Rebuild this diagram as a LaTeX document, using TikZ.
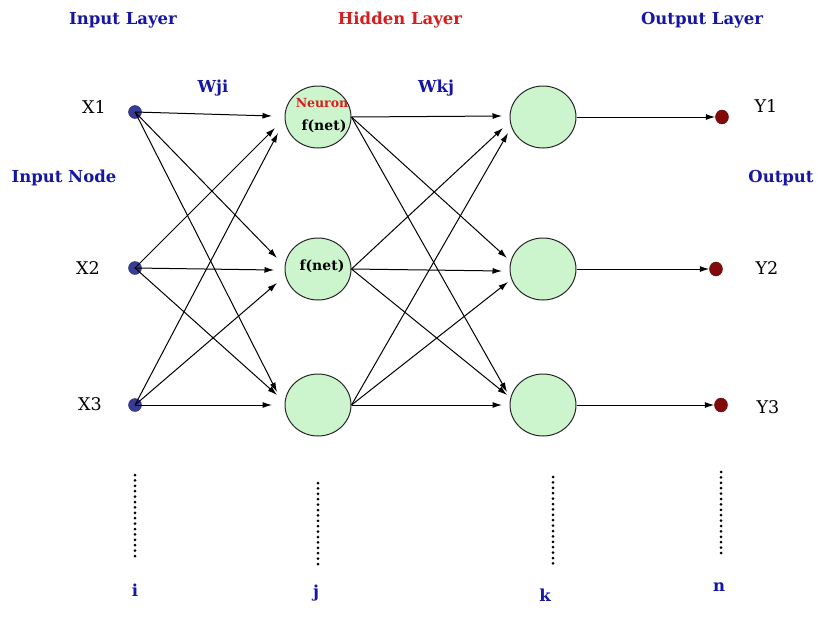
\documentclass[tikz,border=0pt]{standalone}
\usepackage{fontspec}
\setmainfont{DejaVu Serif}
\usetikzlibrary{arrows.meta,shapes.geometric,calc}
\definecolor{lblue}{RGB}{22,22,165}
\definecolor{lred}{RGB}{215,30,30}
\definecolor{dotblue}{RGB}{55,60,150}
\definecolor{dotred}{RGB}{130,10,10}
\definecolor{ngreen}{RGB}{205,245,205}
\begin{document}
\begin{tikzpicture}[x=1pt,y=-1pt,
  inp/.style={circle,fill=dotblue,draw=dotblue!70!black,minimum size=13pt,inner sep=0pt},
  outp/.style={ellipse,fill=dotred,draw=dotred!70!black,minimum width=13pt,minimum height=14pt,inner sep=0pt},
  neur/.style={ellipse,draw=black!85,line width=1pt,fill=ngreen,minimum width=66pt,minimum height=62pt,inner sep=0pt},
  blab/.style={text=lblue,font=\bfseries\fontsize{16.5}{19}\selectfont,inner sep=0pt},
  xlab/.style={text=black,font=\fontsize{17.5}{20}\selectfont,inner sep=0pt},
  conn/.style={line width=1pt,-{Latex[length=9.5pt,width=6pt]}},
  dotline/.style={line width=3pt,line cap=round,dash pattern=on 0pt off 5.4pt}]
\useasboundingbox[fill=white] (0,0) rectangle (818,632);

% titles
\node[blab] (tin) at (123,20) {Input Layer};
\node[blab,text=lred] (thid) at (400,20) {Hidden Layer};
\node[blab] (tout) at (702,20) {Output Layer};
\node[blab] (tnode) at (64,178) {Input Node};
\node[blab] (toutp) at (781,178) {Output};
\node[blab] (wji) at (213,88) {Wji};
\node[blab] (wkj) at (436,88) {Wkj};

% input nodes
\node[inp] (x1) at (135,112) {};
\node[inp] (x2) at (135,268) {};
\node[inp] (x3) at (135,405) {};
\node[xlab] (lx1) at (94,107) {X1};
\node[xlab] (lx2) at (88,268) {X2};
\node[xlab] (lx3) at (90,404) {X3};

% hidden nodes
\node[neur] (h1) at (318,117) {};
\node[neur] (h2) at (318,269) {};
\node[neur] (h3) at (318,405) {};
\node[text=lred,font=\bfseries\fontsize{12.5}{14}\selectfont,inner sep=0pt] (neu) at (322,103) {Neuron};
\node[font=\bfseries\fontsize{14}{16}\selectfont,inner sep=0pt] (fn1) at (324,126) {f(net)};
\node[font=\bfseries\fontsize{14}{16}\selectfont,inner sep=0pt] (fn2) at (322,266) {f(net)};

% second layer nodes
\node[neur] (k1) at (543,117) {};
\node[neur] (k2) at (543,269) {};
\node[neur] (k3) at (543,405) {};

% outputs
\node[outp] (y1) at (722,117) {};
\node[outp] (y2) at (716,269) {};
\node[outp] (y3) at (721,405) {};
\node[xlab] (ly1) at (766,106) {Y1};
\node[xlab] (ly2) at (767,268) {Y2};
\node[xlab] (ly3) at (768,407) {Y3};

% input -> hidden
\draw[conn] (x1.center) -- ($(h1.center)+(-46,-1)$);
\draw[conn] (x2.center) -- ($(h1.center)+(-43,11)$);
\draw[conn] (x3.center) -- ($(h1.center)+(-40,16)$);
\draw[conn] (x1.center) -- ($(h2.center)+(-41,-11)$);
\draw[conn] (x2.center) -- ($(h2.center)+(-44,1)$);
\draw[conn] (x3.center) -- ($(h2.center)+(-41,14)$);
\draw[conn] (x1.center) -- ($(h3.center)+(-41,-13)$);
\draw[conn] (x2.center) -- ($(h3.center)+(-41,-10)$);
\draw[conn] (x3.center) -- ($(h3.center)+(-46,0)$);

% hidden -> second
\draw[conn] (h1.east) -- ($(k1.center)+(-41,-1)$);
\draw[conn] (h2.east) -- ($(k1.center)+(-40,11)$);
\draw[conn] (h3.east) -- ($(k1.center)+(-35,16)$);
\draw[conn] (h1.east) -- ($(k2.center)+(-36,-11)$);
\draw[conn] (h2.east) -- ($(k2.center)+(-41,2)$);
\draw[conn] (h3.east) -- ($(k2.center)+(-35,13)$);
\draw[conn] (h1.east) -- ($(k3.center)+(-36,-13)$);
\draw[conn] (h2.east) -- ($(k3.center)+(-36,-10)$);
\draw[conn] (h3.east) -- ($(k3.center)+(-41,0)$);

% second -> output
\draw[conn] (k1.east) -- (y1.west);
\draw[conn] (k2.east) -- (y2.west);
\draw[conn] (k3.east) -- (y3.west);

% dotted continuation
\draw[dotline] (135,475) -- (135,557);
\draw[dotline] (318,483) -- (318,568);
\draw[dotline] (553,477) -- (553,565);
\draw[dotline] (721,472) -- (721,556);

% indices
\node[blab] (li) at (135,590) {i};
\node[blab] (lj) at (316,593) {j};
\node[blab] (lk) at (545,595) {k};
\node[blab] (ln) at (719,587) {n};
\end{tikzpicture}
\end{document}
